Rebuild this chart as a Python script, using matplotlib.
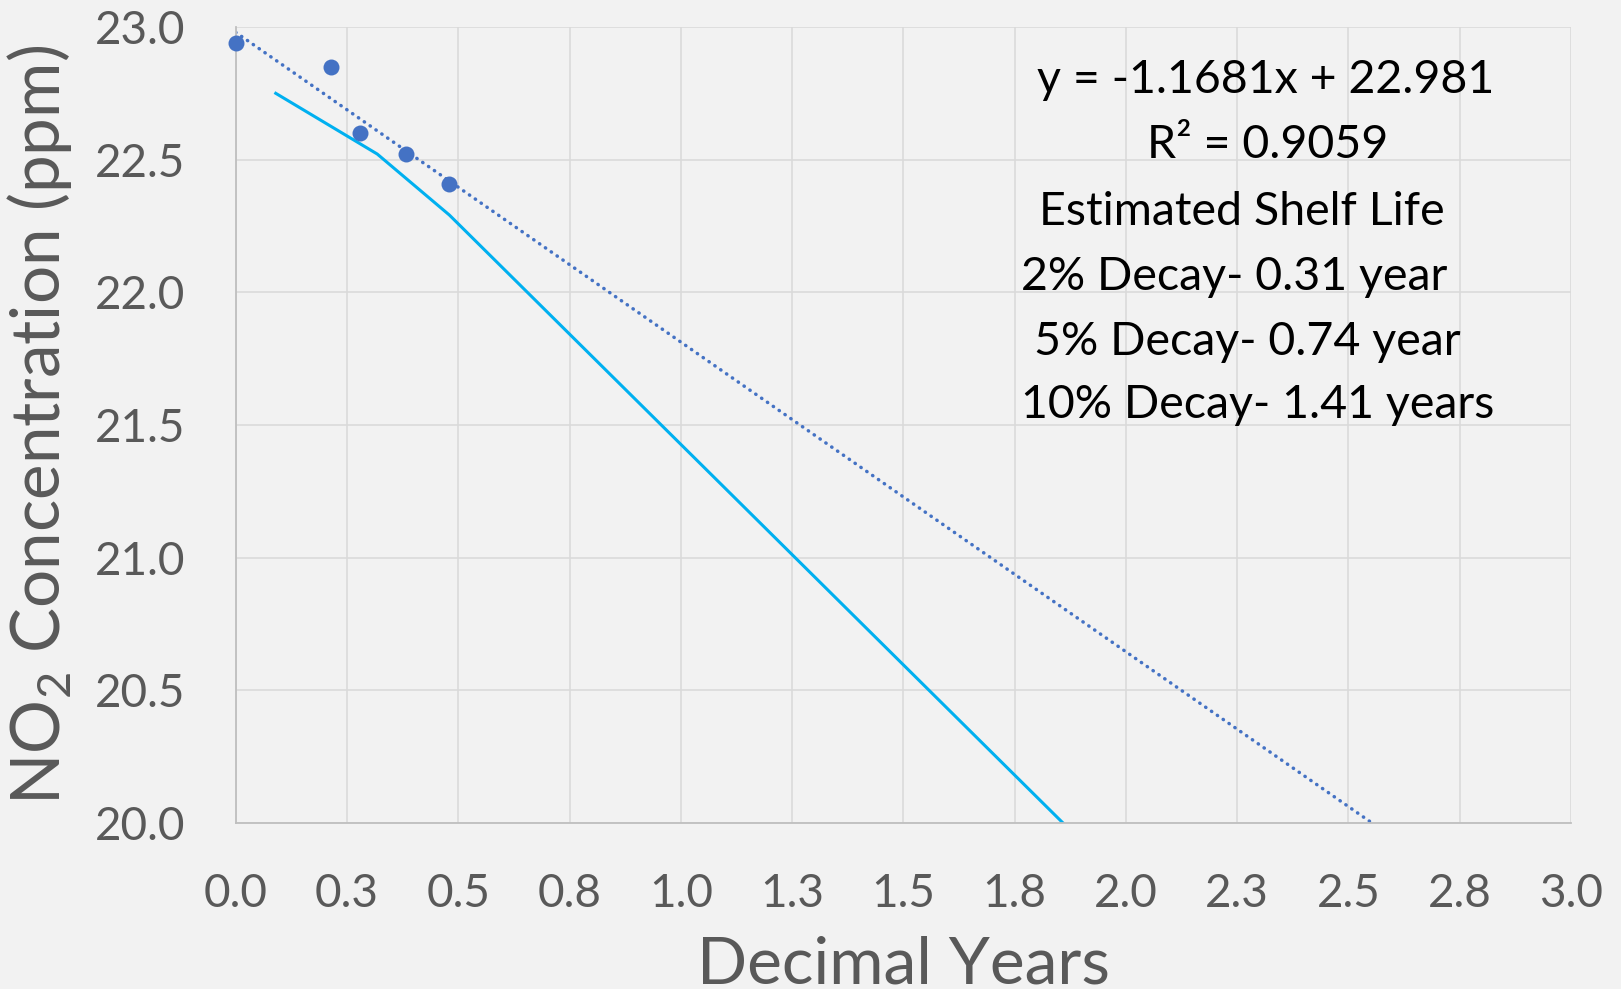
import matplotlib

matplotlib.use("Agg")
import matplotlib.pyplot as plt

# --- Data ---
years = [0.0, 0.213, 0.279, 0.382, 0.479]
no2_ppm = [22.941, 22.851, 22.602, 22.521, 22.410]

# solid cyan line (limit curve)
limit_years = [0.090, 0.318, 0.480, 1.858]
limit_ppm = [22.751, 22.522, 22.292, 20.0]

# linear trendline shown in the chart
SLOPE = -1.1681
INTERCEPT = 22.981

x_ticks = [0.0, 0.25, 0.5, 0.75, 1.0, 1.25, 1.5, 1.75, 2.0, 2.25, 2.5, 2.75, 3.0]
x_tick_labels = ["0.0", "0.3", "0.5", "0.8", "1.0", "1.3", "1.5", "1.8",
                 "2.0", "2.3", "2.5", "2.8", "3.0"]
y_ticks = [20.0, 20.5, 21.0, 21.5, 22.0, 22.5, 23.0]
y_tick_labels = ["20.0", "20.5", "21.0", "21.5", "22.0", "22.5", "23.0"]

annotation_lines = [
    "y = -1.1681x + 22.981",
    "R² = 0.9059",
    "Estimated Shelf Life",
    "2% Decay- 0.31 year",
    "5% Decay- 0.74 year",
    "10% Decay- 1.41 years",
]

# --- Styling ---
BG = "#f2f2f2"
GRID = "#d9d9d9"
AXIS = "#bfbfbf"
LABEL = "#595959"
BLUE = "#4472c4"
CYAN = "#00b0f0"
W, H = 1621, 989

plt.rcParams["font.family"] = ["Lato", "DejaVu Sans"]
plt.rcParams["mathtext.fontset"] = "custom"
plt.rcParams["mathtext.rm"] = "Lato"


def main():
    fig = plt.figure(figsize=(W / 100, H / 100), dpi=100, facecolor=BG)
    ax = fig.add_axes([235.7 / W, 1 - 822.7 / H, (1571 - 235.7) / W, (822.7 - 27.3) / H])
    ax.set_facecolor(BG)

    ax.set_xlim(0, 3.0)
    ax.set_ylim(20.0, 23.0)

    # gridlines behind everything
    ax.set_axisbelow(True)
    ax.grid(True, color=GRID, linewidth=1.1)
    for side in ["top", "right"]:
        ax.spines[side].set_visible(False)
    for side in ["left", "bottom"]:
        ax.spines[side].set_color(AXIS)
        ax.spines[side].set_linewidth(1.3)

    # trendline, forecast forward until it hits 20 ppm
    x_end = (20.0 - INTERCEPT) / SLOPE
    ax.plot([0.0, x_end], [INTERCEPT, INTERCEPT + SLOPE * x_end], color=BLUE,
            linewidth=2.5, linestyle=(0, (0.1, 1.95)), dash_capstyle="round")

    ax.plot(limit_years, limit_ppm, color=CYAN, linewidth=2.2, solid_joinstyle="miter")

    ax.plot(years, no2_ppm, linestyle="none", marker="o", markersize=11.5,
            color=BLUE, markeredgewidth=0, clip_on=False, zorder=5)

    ax.set_xticks(x_ticks)
    ax.set_xticklabels(x_tick_labels)
    ax.set_yticks(y_ticks)
    ax.set_yticklabels(y_tick_labels)
    ax.tick_params(axis="both", length=0, labelsize=33, labelcolor=LABEL)
    ax.tick_params(axis="x", pad=36)
    ax.tick_params(axis="y", pad=36)

    ax.set_xlabel("Decimal Years", fontsize=47.5, color=LABEL, va="baseline")
    ax.xaxis.set_label_coords(0.5, (822.7 - 984) / 795.4)
    ax.set_ylabel(r"NO$_\mathrm{2}$ Concentration (ppm)", fontsize=48.5, color=LABEL,
                  va="center")
    ax.yaxis.set_label_coords((40 - 235.7) / 1335.3, 0.5)

    # equation / shelf life text block
    centers_x = [1266, 1268, 1242, 1234, 1247, 1258]
    baselines_y = [93, 158, 225, 290, 355, 418]
    for line, cx, by in zip(annotation_lines, centers_x, baselines_y):
        fig.text(cx / W, 1 - by / H, line, fontsize=33.5, color="black",
                 ha="center", va="baseline")

    fig.savefig("out.png", dpi=100, facecolor=BG)


if __name__ == "__main__":
    main()
